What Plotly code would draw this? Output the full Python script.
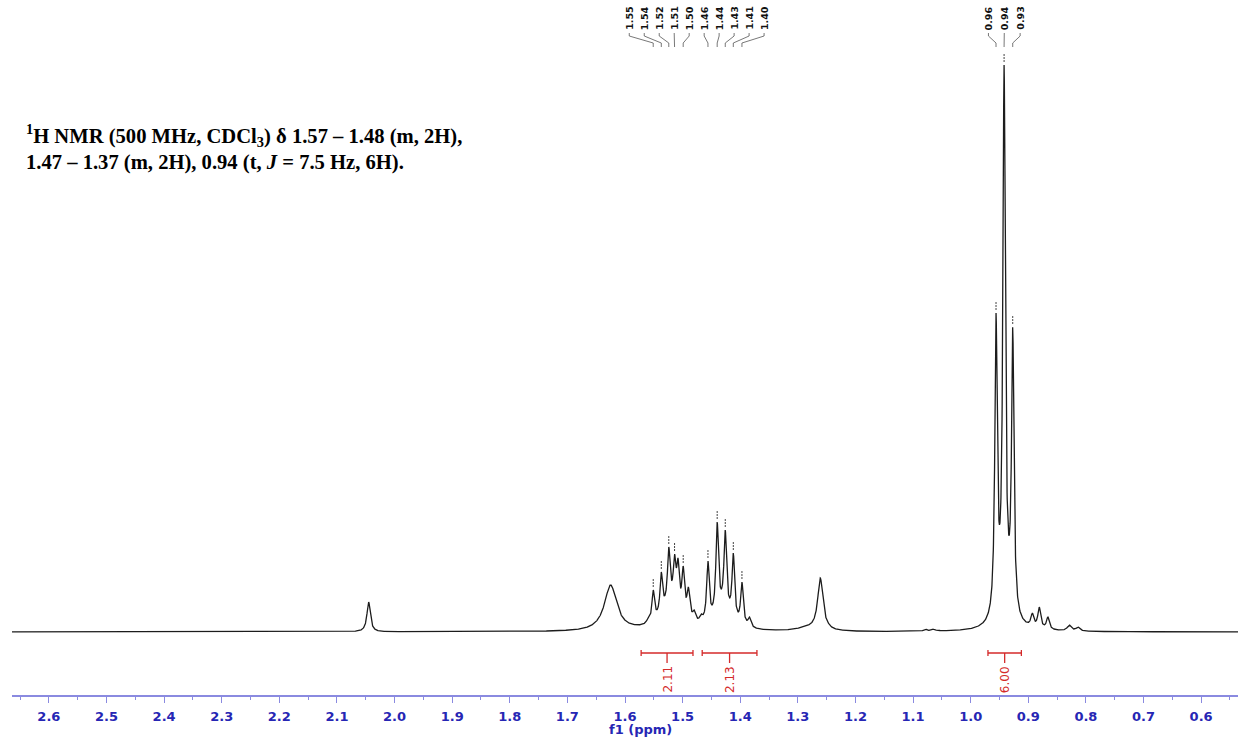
import numpy as np
import plotly.graph_objects as go

# ---- spectrum: resolved lines (ppm, height at the line centre, half-width in ppm)
line_ppm = [2.045, 1.625, 1.560, 1.551, 1.537, 1.524, 1.514, 1.508, 1.499, 1.490,
            1.480, 1.468, 1.456, 1.440, 1.426, 1.412, 1.397, 1.384, 1.261, 1.248,
            1.079, 1.066, 1.057, 0.956, 0.942, 0.927, 0.893, 0.881, 0.866, 0.829, 0.814]
line_height = [30, 47, 14, 42, 60, 85, 78, 74, 66, 45,
               22, 18, 71, 110, 102, 79, 50, 15, 54, 10,
               3, 3, 2, 319, 567, 305, 19, 25, 15, 7, 5]
line_hw = [0.0035, 0.013, 0.003, 0.0027, 0.0027, 0.0027, 0.0027, 0.0027, 0.0027, 0.003,
           0.003, 0.003, 0.0027, 0.0027, 0.0027, 0.0027, 0.0027, 0.003, 0.0055, 0.004,
           0.003, 0.003, 0.003, 0.0025, 0.0025, 0.0025, 0.003, 0.003, 0.003, 0.004, 0.004]

# broad underlying components
broad_ppm = [1.520, 1.430, 1.285, 0.941]
broad_height = [24, 18, 3, 18]
broad_hw = [0.020, 0.016, 0.020, 0.015]

# picked peaks (labelled at the top), split into label groups
picked_group_1 = [1.551, 1.537, 1.524, 1.514, 1.499, 1.456, 1.440, 1.426, 1.412, 1.397]
picked_group_2 = [0.956, 0.942, 0.927]

# integrals
integral_from = [1.572, 1.466, 0.970]
integral_to = [1.482, 1.371, 0.912]
integral_value = [2.11, 2.13, 6.00]

# axis ticks
tick_vals = [2.6, 2.5, 2.4, 2.3, 2.2, 2.1, 2.0, 1.9, 1.8, 1.7, 1.6,
             1.5, 1.4, 1.3, 1.2, 1.1, 1.0, 0.9, 0.8, 0.7, 0.6]

header = ("<sup>1</sup>H NMR (500 MHz, CDCl<sub>3</sub>) δ 1.57 – 1.48 (m, 2H),<br>"
          "1.47 – 1.37 (m, 2H), 0.94 (t, <i>J</i> = 7.5 Hz, 6H).")

X_RANGE = [2.664, 0.536]
Y_RANGE = [-63, 632]
BLUE_AXIS = "#8a8ae0"
BLUE_TEXT = "#2626b4"
RED = "#d42a2a"


def lorentz(x, c, w):
    return 1.0 / (1.0 + ((x - c) / w) ** 2)


lp = np.array(line_ppm)
lh = np.array(line_height, dtype=float)
lw = np.array(line_hw)


def broad(x):
    x = np.asarray(x, dtype=float)
    return sum(h * lorentz(x, c, w) for c, h, w in zip(broad_ppm, broad_height, broad_hw))


# amplitudes such that the summed spectrum reaches each listed height at its line centre
A = np.array([[lorentz(xi, c, w) for c, w in zip(lp, lw)] for xi in lp])
amp = np.linalg.solve(A, lh - broad(lp))
amp = np.clip(amp, 0, None)


def spectrum(x):
    x = np.asarray(x, dtype=float)
    s = broad(x)
    for c, a, w in zip(lp, amp, lw):
        s = s + a * lorentz(x, c, w)
    return s


xs = np.linspace(X_RANGE[0], X_RANGE[1], 9000)
ys = spectrum(xs)

fig = go.Figure()
fig.add_trace(go.Scatter(x=xs, y=ys, mode="lines",
                         line=dict(color="#1c1c1c", width=1.3),
                         hoverinfo="skip"))

# peak-pick markers, connectors and labels
mk_x, mk_y, cn_x, cn_y = [], [], [], []
annotations = []
for group, spacing in ((picked_group_1, 0.026), (picked_group_2, 0.0275)):
    n = len(group)
    centre = float(np.mean(group))
    for i, p in enumerate(group):
        lx = centre + ((n - 1) / 2 - i) * spacing
        top = float(spectrum(p))
        mk_x += [p, p, None]
        mk_y += [top + 3, top + 11, None]
        cn_x += [lx, lx, p, p, None]
        cn_y += [599, 596, 589, 585, None]
        annotations.append(dict(x=lx, y=600, xref="x", yref="y", text=f"{p:.2f}",
                                showarrow=False, textangle=-90, xanchor="center",
                                yanchor="bottom",
                                font=dict(family="DejaVu Sans", size=9.5, color="#111111",
                                          weight="bold")))

fig.add_trace(go.Scatter(x=mk_x, y=mk_y, mode="lines",
                         line=dict(color="#444444", width=1, dash="2px,1px"),
                         hoverinfo="skip"))
fig.add_trace(go.Scatter(x=cn_x, y=cn_y, mode="lines",
                         line=dict(color="#555555", width=0.8),
                         hoverinfo="skip"))

# integral brackets
shapes = []
for a, b, v in zip(integral_from, integral_to, integral_value):
    mid = (a + b) / 2
    line = dict(color=RED, width=1.3)
    shapes.append(dict(type="line", xref="x", yref="y", x0=a, x1=b, y0=-21, y1=-21, line=line))
    shapes.append(dict(type="line", xref="x", yref="y", x0=a, x1=a, y0=-18, y1=-24, line=line))
    shapes.append(dict(type="line", xref="x", yref="y", x0=b, x1=b, y0=-18, y1=-24, line=line))
    shapes.append(dict(type="line", xref="x", yref="y", x0=mid, x1=mid, y0=-21, y1=-31, line=line))
    annotations.append(dict(x=mid, y=-32, xref="x", yref="y", text=f"{v:.2f}",
                            showarrow=False, textangle=-90, xanchor="center", yanchor="top",
                            font=dict(family="DejaVu Sans", size=12, color=RED)))

# header text
annotations.append(dict(x=(24 - 12) / 1226, y=(695 - 119) / 695, xref="paper", yref="paper",
                        text=header, showarrow=False, xanchor="left", yanchor="top",
                        align="left",
                        font=dict(family="Liberation Serif", size=20.6, color="black",
                                  weight="bold")))

# axis title
annotations.append(dict(x=(640 - 12) / 1226, y=(695 - 729) / 695, xref="paper", yref="paper",
                        text="f1 (ppm)", showarrow=False, xanchor="center", yanchor="middle",
                        font=dict(family="DejaVu Sans", size=13, color=BLUE_TEXT,
                                  weight="bold")))

fig.update_layout(
    width=1238, height=738,
    margin=dict(l=12, r=0, t=0, b=43),
    paper_bgcolor="white", plot_bgcolor="white",
    showlegend=False,
    shapes=shapes,
    annotations=annotations,
    xaxis=dict(range=X_RANGE, tickvals=tick_vals, ticktext=[f"{t:.1f}" for t in tick_vals],
               showgrid=False, zeroline=False, showline=True, linecolor=BLUE_AXIS,
               linewidth=1.5, ticks="outside", ticklen=6, tickwidth=1, tickcolor=BLUE_AXIS,
               ticklabelstandoff=3,
               tickfont=dict(family="DejaVu Sans", size=13, color=BLUE_TEXT, weight="bold"),
               minor=dict(dtick=0.05, tick0=0, ticks="outside", ticklen=3,
                          tickcolor=BLUE_AXIS, tickwidth=1)),
    yaxis=dict(range=Y_RANGE, visible=False, showgrid=False, zeroline=False),
)

fig.write_html("out.html")
